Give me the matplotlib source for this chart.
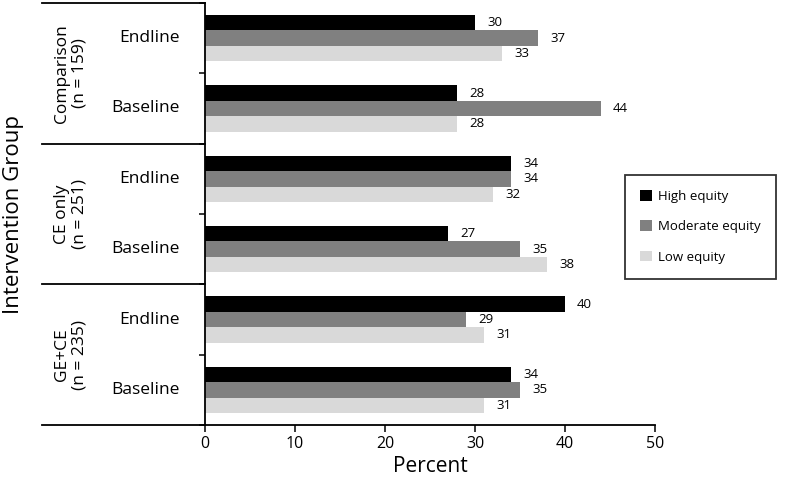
import matplotlib
matplotlib.use("Agg")
import matplotlib.pyplot as plt
from matplotlib.lines import Line2D
from matplotlib.patches import Patch

plt.rcParams['font.family'] = ['Open Sans', 'DejaVu Sans']

groups = ["Comparison\n(n = 159)", "CE only\n(n = 251)", "GE+CE\n(n = 235)"]
periods = ["Endline", "Baseline"]
series = ["High equity", "Moderate equity", "Low equity"]
colors = ["#000000", "#808080", "#d9d9d9"]

# order: Comparison Endline, Comparison Baseline, CE Endline, CE Baseline, GE+CE Endline, GE+CE Baseline
high = [30, 28, 34, 27, 40, 34]
moderate = [37, 44, 34, 35, 29, 35]
low = [33, 28, 32, 38, 31, 31]
values = [high, moderate, low]

fig = plt.figure(figsize=(7.85, 4.9), dpi=100)
ax = fig.add_axes([205/785, 65/490, 450/785, 422/490])

n = len(high)
bh = 0.22
offsets = [-bh, 0, bh]
for s, (vals, col, off, name) in enumerate(zip(values, colors, offsets, series)):
    ys = [i + 0.5 + off for i in range(n)]
    ax.barh(ys, vals, height=bh, color=col, label=name, linewidth=0)
    for y, v in zip(ys, vals):
        ax.annotate(str(v), xy=(v, y), xytext=(8.6, 0), textcoords='offset points',
                    ha='left', va='center', fontsize=9.5)

ax.set_xlim(0, 50)
ax.set_ylim(n, 0)
ax.set_xticks(range(0, 51, 10))
ax.set_yticks(range(0, n + 1))
ax.set_yticklabels([])
ax.tick_params(axis='x', direction='out', length=5, width=1.1, labelsize=11.5, pad=3)
ax.tick_params(axis='y', direction='out', length=4, width=1.1)
for sp in ['top', 'right']:
    ax.spines[sp].set_visible(False)
for sp in ['left', 'bottom']:
    ax.spines[sp].set_linewidth(1.3)

ax.set_xlabel("Percent", fontsize=15, labelpad=3)

# Extended horizontal lines in the label area
x_left = (42 - 205) / 450.0
trans = ax.get_yaxis_transform()
for yb in [0, 2, 4, 6]:
    ax.add_line(Line2D([x_left, 0], [yb, yb], transform=trans, color='black',
                       linewidth=1.3, clip_on=False))

# Period labels
x_per = (180 - 205) / 450.0
for i in range(n):
    ax.text(x_per, i + 0.5, periods[i % 2], transform=trans, ha='right', va='center',
            fontsize=12.5)

# Group labels
x_grp = (71 - 205) / 450.0
for g, name in enumerate(groups):
    ax.text(x_grp, 2 * g + 1, name, transform=trans, ha='center', va='center',
            rotation=90, fontsize=12.5, linespacing=1.15, multialignment='center')

fig.text(14 / 785, 1 - 214 / 490, "Intervention Group", rotation=90, ha='center',
         va='center', fontsize=16)

handles = [Patch(facecolor=c, edgecolor='none') for c in colors]
leg = fig.legend(handles, series, loc='upper left',
                 bbox_to_anchor=(625 / 785, 1 - 175 / 490), fontsize=9.5,
                 frameon=True, fancybox=False, edgecolor='black',
                 handlelength=0.9, handleheight=0.9, handletextpad=0.45,
                 labelspacing=1.3, borderpad=1.15, borderaxespad=0)
leg.get_frame().set_linewidth(1.3)

fig.savefig("out.png", dpi=100)
